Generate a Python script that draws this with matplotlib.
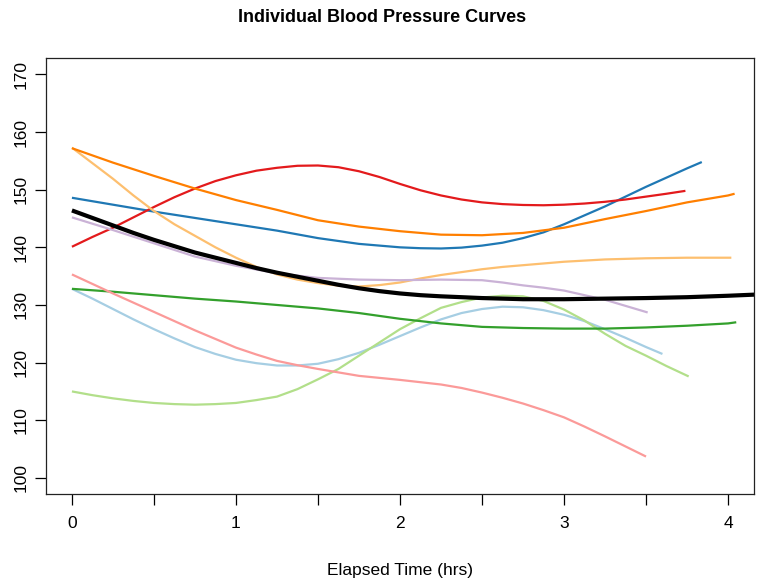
import matplotlib
matplotlib.use("Agg")
import matplotlib.pyplot as plt

plt.rcParams['font.family'] = ['Liberation Sans', 'DejaVu Sans']

# Individual curves (time in hrs, pressure)
red_x = [0, 0.125, 0.25, 0.375, 0.5, 0.625, 0.75, 0.875, 1, 1.125, 1.25, 1.375, 1.5, 1.625, 1.75, 1.875,
         2, 2.125, 2.25, 2.375, 2.5, 2.625, 2.75, 2.875, 3, 3.125, 3.25, 3.375, 3.5, 3.625, 3.74]
red_y = [140.1, 141.8, 143.4, 145.2, 147.0, 148.7, 150.2, 151.5, 152.5, 153.3, 153.8, 154.15, 154.2, 153.9, 153.2, 152.2,
         151.0, 149.9, 149.0, 148.3, 147.8, 147.5, 147.35, 147.3, 147.4, 147.6, 147.9, 148.3, 148.8, 149.3, 149.8]

orange_x = [0, 0.25, 0.5, 0.75, 1, 1.25, 1.5, 1.75, 2, 2.25, 2.5, 2.75, 3, 3.25, 3.5, 3.75, 4, 4.04]
orange_y = [157.2, 154.7, 152.4, 150.2, 148.2, 146.5, 144.7, 143.6, 142.8, 142.2, 142.1, 142.5, 143.4, 144.9, 146.3, 147.8, 149.0, 149.3]

blue_x = [0, 0.25, 0.5, 0.75, 1, 1.25, 1.5, 1.75, 2, 2.125, 2.25, 2.375, 2.5, 2.625, 2.75, 2.875, 3, 3.25, 3.5, 3.75, 3.84]
blue_y = [148.6, 147.4, 146.2, 145.1, 144.0, 142.9, 141.6, 140.6, 140.0, 139.85, 139.8, 139.95, 140.3, 140.8, 141.6, 142.6, 144.0, 147.1, 150.5, 153.7, 154.8]

ltorange_x = [0, 0.125, 0.25, 0.375, 0.5, 0.625, 0.75, 0.875, 1, 1.125, 1.25, 1.375, 1.5, 1.625, 1.75, 1.875,
              2, 2.125, 2.25, 2.375, 2.5, 2.625, 2.75, 2.875, 3, 3.25, 3.5, 3.75, 4.02]
ltorange_y = [157.3, 154.6, 151.9, 149.0, 146.3, 144.0, 142.0, 140.0, 138.2, 136.6, 135.3, 134.4, 133.8, 133.35, 133.2, 133.45,
              133.9, 134.6, 135.2, 135.7, 136.2, 136.6, 136.9, 137.2, 137.5, 137.9, 138.1, 138.2, 138.2]

lavender_x = [0, 0.25, 0.5, 0.75, 1, 1.25, 1.5, 1.75, 2, 2.25, 2.5, 2.625, 2.75, 2.875, 3, 3.25, 3.51]
lavender_y = [145.2, 143.0, 140.7, 138.4, 136.8, 135.5, 134.7, 134.4, 134.3, 134.4, 134.3, 133.9, 133.4, 133.0, 132.5, 130.9, 128.7]

green_x = [0, 0.25, 0.5, 0.75, 1, 1.25, 1.5, 1.75, 2, 2.25, 2.5, 2.75, 3, 3.25, 3.5, 3.75, 4, 4.05]
green_y = [132.8, 132.3, 131.7, 131.1, 130.6, 130.0, 129.4, 128.6, 127.6, 126.8, 126.2, 126.0, 125.9, 125.9, 126.1, 126.4, 126.8, 127.0]

pink_x = [0, 0.125, 0.25, 0.375, 0.5, 0.625, 0.75, 0.875, 1, 1.125, 1.25, 1.375, 1.5, 1.625, 1.75, 1.875,
          2, 2.125, 2.25, 2.375, 2.5, 2.625, 2.75, 2.875, 3, 3.125, 3.25, 3.375, 3.5]
pink_y = [135.3, 133.65, 132.0, 130.4, 128.8, 127.2, 125.6, 124.1, 122.6, 121.4, 120.3, 119.55, 118.9, 118.3, 117.7, 117.35,
          117.0, 116.6, 116.2, 115.6, 114.8, 113.9, 112.9, 111.75, 110.5, 108.9, 107.2, 105.45, 103.7]

ltblue_x = [0, 0.125, 0.25, 0.375, 0.5, 0.625, 0.75, 0.875, 1, 1.125, 1.25, 1.375, 1.5, 1.625, 1.75, 1.875,
            2, 2.125, 2.25, 2.375, 2.5, 2.625, 2.75, 2.875, 3, 3.125, 3.25, 3.375, 3.5, 3.6]
ltblue_y = [132.8, 131.1, 129.3, 127.5, 125.8, 124.2, 122.7, 121.5, 120.5, 119.9, 119.5, 119.5, 119.8, 120.6, 121.7, 123.1,
            124.6, 126.1, 127.5, 128.6, 129.3, 129.7, 129.6, 129.1, 128.3, 127.2, 125.8, 124.3, 122.7, 121.5]

ltgreen_x = [0, 0.125, 0.25, 0.375, 0.5, 0.625, 0.75, 0.875, 1, 1.125, 1.25, 1.375, 1.5, 1.625, 1.75, 1.875,
             2, 2.125, 2.25, 2.375, 2.5, 2.625, 2.75, 2.875, 3, 3.125, 3.25, 3.375, 3.5, 3.625, 3.76]
ltgreen_y = [115.0, 114.35, 113.8, 113.35, 113.0, 112.8, 112.7, 112.8, 113.0, 113.5, 114.1, 115.4, 117.1, 118.9, 121.2, 123.5,
             125.8, 127.7, 129.5, 130.5, 131.3, 131.6, 131.5, 130.7, 129.2, 127.3, 125.0, 122.9, 121.2, 119.4, 117.6]

# mean curve (runs past the right edge)
mean_x = [0, 0.125, 0.25, 0.375, 0.5, 0.625, 0.75, 0.875, 1, 1.125, 1.25, 1.375, 1.5, 1.625, 1.75, 1.875,
          2, 2.125, 2.25, 2.5, 2.75, 3, 3.25, 3.5, 3.75, 4, 4.25]
mean_y = [146.4, 145.1, 143.8, 142.5, 141.3, 140.2, 139.1, 138.2, 137.3, 136.4, 135.6, 134.9, 134.2, 133.5, 132.9, 132.4,
          132.0, 131.7, 131.5, 131.2, 131.0, 131.0, 131.1, 131.2, 131.35, 131.6, 131.9]

curves = [
    (ltblue_x, ltblue_y, '#A6CEE3'),
    (blue_x, blue_y, '#1F78B4'),
    (ltgreen_x, ltgreen_y, '#B2DF8A'),
    (green_x, green_y, '#33A02C'),
    (pink_x, pink_y, '#FB9A99'),
    (red_x, red_y, '#E31A1C'),
    (ltorange_x, ltorange_y, '#FDBF6F'),
    (orange_x, orange_y, '#FF7F00'),
    (lavender_x, lavender_y, '#CAB2D6'),
]

x_ticks = [0, 0.5, 1, 1.5, 2, 2.5, 3, 3.5, 4]
x_labels = ['0', '', '1', '', '2', '', '3', '', '4']
y_ticks = [100, 110, 120, 130, 140, 150, 160, 170]

fig = plt.figure(figsize=(7.64, 5.87), dpi=100)
ax = fig.add_axes([0.0598, 0.1584, 0.9275, 0.7423])

for xs, ys, col in curves:
    ax.plot(xs, ys, color=col, linewidth=1.6, solid_capstyle='butt', solid_joinstyle='round')
ax.plot(mean_x, mean_y, color='black', linewidth=3.0, solid_capstyle='butt', solid_joinstyle='round')

ax.set_xlim(-0.16, 4.16)
ax.set_ylim(97.2, 172.8)
ax.set_xticks(x_ticks)
ax.set_xticklabels(x_labels)
ax.set_yticks(y_ticks)
ax.set_yticklabels([str(v) for v in y_ticks], rotation=90, va='center')
ax.tick_params(axis='both', direction='out', length=8, width=0.9, labelsize=12.5, colors='black')
ax.tick_params(axis='x', pad=8)
ax.tick_params(axis='y', pad=4)
for s in ax.spines.values():
    s.set_linewidth(0.9)
    s.set_color('#222222')

ax.set_xlabel('Elapsed Time (hrs)', fontsize=12.5, labelpad=23)
fig.text(0.5, 1 - 18 / 587, 'Individual Blood Pressure Curves', ha='center', va='center',
         fontsize=13, fontweight='bold')

fig.savefig('out.png', dpi=100)
